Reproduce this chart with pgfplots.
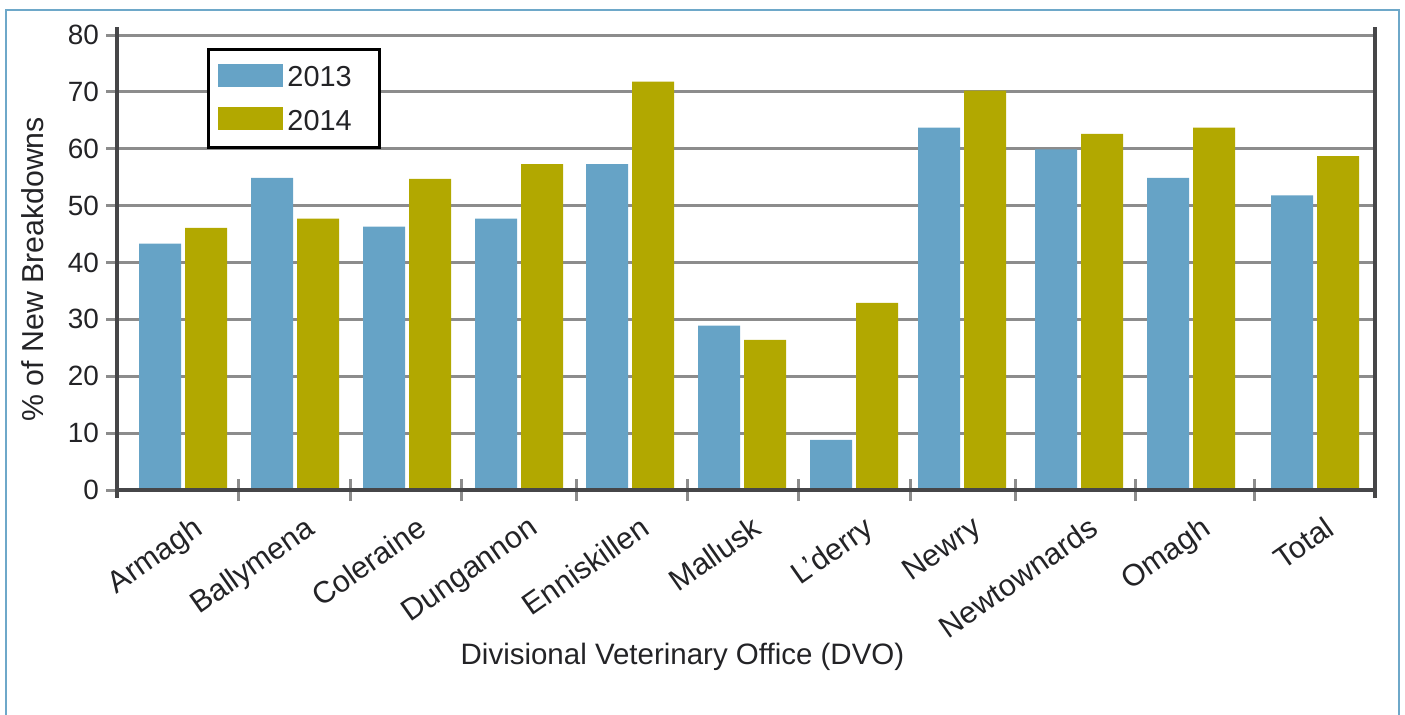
\documentclass[border=0pt]{standalone}
\usepackage{fontspec}
\setmainfont{Liberation Sans}
\usepackage{pgfplots}
\usepackage{pgfplotstable}
\pgfplotsset{compat=1.18}
\definecolor{barblue}{RGB}{102,163,198}
\definecolor{barolive}{RGB}{178,168,0}
\definecolor{framecol}{RGB}{110,168,201}
\definecolor{gridcol}{RGB}{140,140,140}
\definecolor{axiscol}{RGB}{70,70,72}
\definecolor{txt}{RGB}{35,35,38}

\pgfplotstableread{
x    v2013 v2014
183  43.3  46.1
295  54.9  47.7
407  46.3  54.7
519  47.7  57.3
630  57.3  71.8
742  28.9  26.4
854  8.8   32.9
962  63.7  70.2
1079 59.9  62.6
1191 54.9  63.7
1315 51.8  58.7
}\datatable

\begin{document}
\begin{tikzpicture}
\useasboundingbox (0,0) rectangle (702.5bp,357.5bp);
\draw[framecol, line width=1.2bp] (3bp,-5bp) -- (3bp,352.5bp) -- (699.5bp,352.5bp) -- (699.5bp,-5bp);
\begin{axis}[
  at={(58.5bp,112.5bp)}, anchor=south west,
  scale only axis, width=629bp, height=227.5bp,
  xmin=117, xmax=1375, ymin=0, ymax=80,
  clip=false,
  axis line style={draw=none},
  ymajorgrids, grid style={gridcol, line width=1.5bp},
  ytick={0,10,...,80},
  xtick={238,350,461,576,687,798,910,1015,1135,1254},
  xticklabels={},
  tick align=center, major tick length=11bp,
  tick style={gridcol, line width=1.5bp},
  xtick pos=bottom, ytick pos=left,
  extra x ticks={183,295,407,519,630,742,854,962,1079,1191,1315},
  extra x tick labels={Armagh,Ballymena,Coleraine,Dungannon,Enniskillen,Mallusk,L’derry,Newry,Newtownards,Omagh,Total},
  extra x tick style={major tick length=0pt, tick style={draw=none}},
  xticklabel style={rotate=35, anchor=north east, inner sep=0pt, xshift=-3.5bp, yshift=-12.5bp,
    font=\fontsize{15.3}{18}\selectfont, text=txt},
  yticklabel style={font=\fontsize{14}{16}\selectfont, text=txt},
  /pgf/number format/assume math mode=true,
  xlabel={Divisional Veterinary Office (DVO)},
  xlabel style={at={(axis description cs:0.4495,-0.3846)}, anchor=base,
    font=\fontsize{14.8}{17}\selectfont, text=txt},
  ylabel={\% of New Breakdowns},
  ylabel style={at={(axis description cs:-0.0672,0.485)}, anchor=center,
    font=\fontsize{15.2}{17}\selectfont, text=txt},
  legend style={at={(axis description cs:0.0715,0.971)}, anchor=north west,
    draw=black, line width=1.5bp, inner xsep=5bp, inner ysep=6.5bp,
    row sep=7.5bp, nodes={inner sep=2bp, text depth=0pt}, font=\fontsize{14.5}{17}\selectfont,
    cells={anchor=base west}, text=txt},
  legend image code/.code={\fill[#1] (0bp,0bp) rectangle (32.5bp,11.5bp);},
]
\addplot[ybar, bar width=42, bar shift=-23, fill=barblue, draw=none] table[x=x, y=v2013] {\datatable};
\addlegendentry{\makebox[39bp][l]{2013}}
\addplot[ybar, bar width=42, bar shift=23, fill=barolive, draw=none] table[x=x, y=v2014] {\datatable};
\addlegendentry{\makebox[39bp][l]{2014}}
\draw[axiscol, line width=1.6bp] (rel axis cs:0,-0.0176) -- (rel axis cs:0,1.0176);
\draw[axiscol, line width=1.6bp] (rel axis cs:1,-0.0176) -- (rel axis cs:1,1.0176);
\draw[axiscol, line width=1.6bp] (rel axis cs:0,0) -- (rel axis cs:1,0);
\end{axis}
\end{tikzpicture}
\end{document}
